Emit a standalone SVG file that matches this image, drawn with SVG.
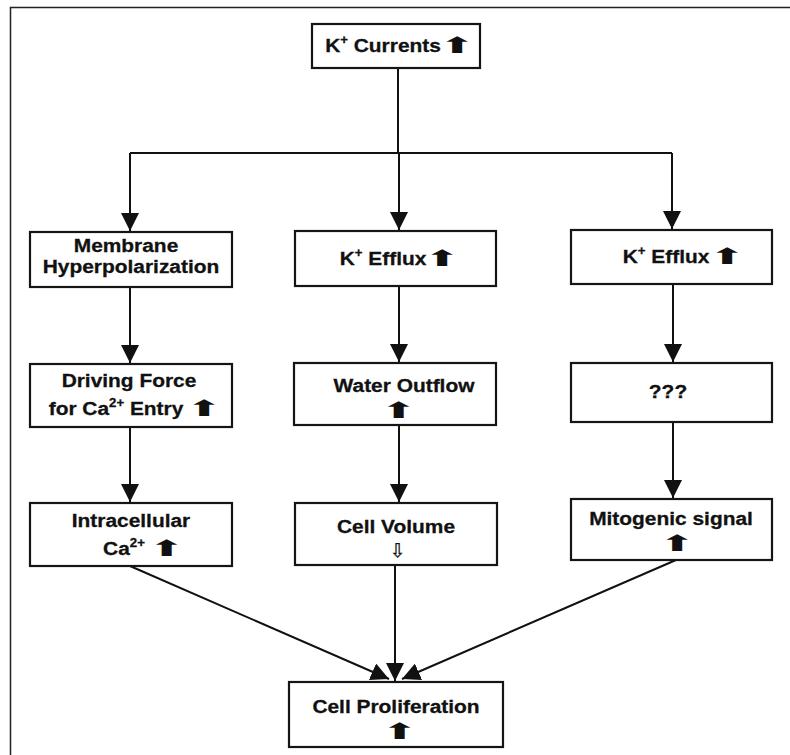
<svg xmlns="http://www.w3.org/2000/svg" width="790" height="755" viewBox="0 0 790 755">
<style>
.box{fill:#fff;stroke:#151515;stroke-width:2.2}
.t{font-family:"Liberation Sans",Arial,sans-serif;font-weight:bold;font-size:19px;text-anchor:middle;fill:#111;stroke:#111;stroke-width:0.3}
.ar{font-family:"DejaVu Sans",sans-serif;font-size:30px;text-anchor:middle;fill:#111}
.sup{font-size:12px}
.c{fill:none;stroke:#111;stroke-width:2}
</style>
<defs>
<marker id="ah" markerUnits="userSpaceOnUse" markerWidth="18" markerHeight="18" viewBox="0 0 16 16" refX="16" refY="8" orient="auto">
<path d="M0,0 L16,8 L0,16 Z" fill="#111"/>
</marker>
</defs>
<rect width="790" height="755" fill="#fff"/>
<path d="M10.5,755 V7.5 H790" fill="none" stroke="#222" stroke-width="1.5"/>

<g id="connectors">
<path class="c" d="M398,68 V153"/>
<path class="c" d="M130,153 H672"/>
<path class="c" d="M130,153 V231" marker-end="url(#ah)"/>
<path class="c" d="M399,153 V230" marker-end="url(#ah)"/>
<path class="c" d="M672,153 V229" marker-end="url(#ah)"/>
<path class="c" d="M130,287 V363" marker-end="url(#ah)"/>
<path class="c" d="M399,286 V362" marker-end="url(#ah)"/>
<path class="c" d="M673,284 V362" marker-end="url(#ah)"/>
<path class="c" d="M130,427 V502" marker-end="url(#ah)"/>
<path class="c" d="M399,425 V502" marker-end="url(#ah)"/>
<path class="c" d="M673,422 V498" marker-end="url(#ah)"/>
<path class="c" d="M130,566 L389,679" marker-end="url(#ah)"/>
<path class="c" d="M395,565 V681" marker-end="url(#ah)"/>
<path class="c" d="M676,560 L402,679" marker-end="url(#ah)"/>
</g>

<g id="k-currents">
<rect class="box" x="312" y="24" width="168" height="44"/>
<text class="t" transform="translate(383,52) scale(1.1,1)"><tspan>K</tspan><tspan class="sup" dy="-8">+</tspan><tspan dy="8"> Currents</tspan></text>
<text class="ar" transform="translate(457,53) scale(1.45,0.74)">⬆</text>
</g>

<g id="membrane-hyperpolarization">
<rect class="box" x="30" y="232" width="202" height="55"/>
<text class="t" transform="translate(126,252) scale(1.1,1)">Membrane</text>
<text class="t" transform="translate(131,273) scale(1.1,1)">Hyperpolarization</text>
</g>

<g id="k-efflux-1">
<rect class="box" x="295" y="231" width="201" height="55"/>
<text class="t" transform="translate(383,265) scale(1.1,1)"><tspan>K</tspan><tspan class="sup" dy="-8">+</tspan><tspan dy="8"> Efflux</tspan></text>
<text class="ar" transform="translate(442,266) scale(1.45,0.74)">⬆</text>
</g>

<g id="k-efflux-2">
<rect class="box" x="571" y="230" width="201" height="54"/>
<text class="t" transform="translate(666,263) scale(1.1,1)"><tspan>K</tspan><tspan class="sup" dy="-8">+</tspan><tspan dy="8"> Efflux</tspan></text>
<text class="ar" transform="translate(727,264) scale(1.45,0.74)">⬆</text>
</g>

<g id="driving-force">
<rect class="box" x="30" y="364" width="202" height="63"/>
<text class="t" transform="translate(129,387) scale(1.1,1)">Driving Force</text>
<text class="t" transform="translate(116,415) scale(1.1,1)"><tspan>for Ca</tspan><tspan class="sup" font-size="13" dy="-8">2+</tspan><tspan dy="8"> Entry</tspan></text>
<text class="ar" transform="translate(204,416) scale(1.45,0.74)">⬆</text>
</g>

<g id="water-outflow">
<rect class="box" x="294" y="363" width="202" height="62"/>
<text class="t" transform="translate(404,392) scale(1.1,1)">Water Outflow</text>
<text class="ar" transform="translate(398.5,418) scale(1.45,0.74)">⬆</text>
</g>

<g id="unknown">
<rect class="box" x="571" y="363" width="201" height="59"/>
<text class="t" transform="translate(668,398) scale(1.1,1)">???</text>
</g>

<g id="intracellular-ca">
<rect class="box" x="30" y="503" width="202" height="63"/>
<text class="t" transform="translate(131,527) scale(1.1,1)">Intracellular</text>
<text class="t" transform="translate(124,555) scale(1.1,1)"><tspan>Ca</tspan><tspan class="sup" font-size="13" dy="-8">2+</tspan></text>
<text class="ar" transform="translate(166.5,556) scale(1.45,0.74)">⬆</text>
</g>

<g id="cell-volume">
<rect class="box" x="295" y="503" width="202" height="62"/>
<text class="t" transform="translate(396,533) scale(1.1,1)">Cell Volume</text>
<text style="font-family:'DejaVu Sans',sans-serif;font-size:19px;text-anchor:middle;fill:#111;stroke:#111;stroke-width:0.3" transform="translate(397.5,557)">⇩</text>
</g>

<g id="mitogenic-signal">
<rect class="box" x="571" y="499" width="201" height="61"/>
<text class="t" transform="translate(671,525) scale(1.1,1)">Mitogenic signal</text>
<text class="ar" transform="translate(677,551) scale(1.45,0.74)">⬆</text>
</g>

<g id="cell-proliferation">
<rect class="box" x="289" y="682" width="214" height="65"/>
<text class="t" transform="translate(396,713) scale(1.1,1)">Cell Proliferation</text>
<text class="ar" transform="translate(399.5,739) scale(1.45,0.74)">⬆</text>
</g>
</svg>
